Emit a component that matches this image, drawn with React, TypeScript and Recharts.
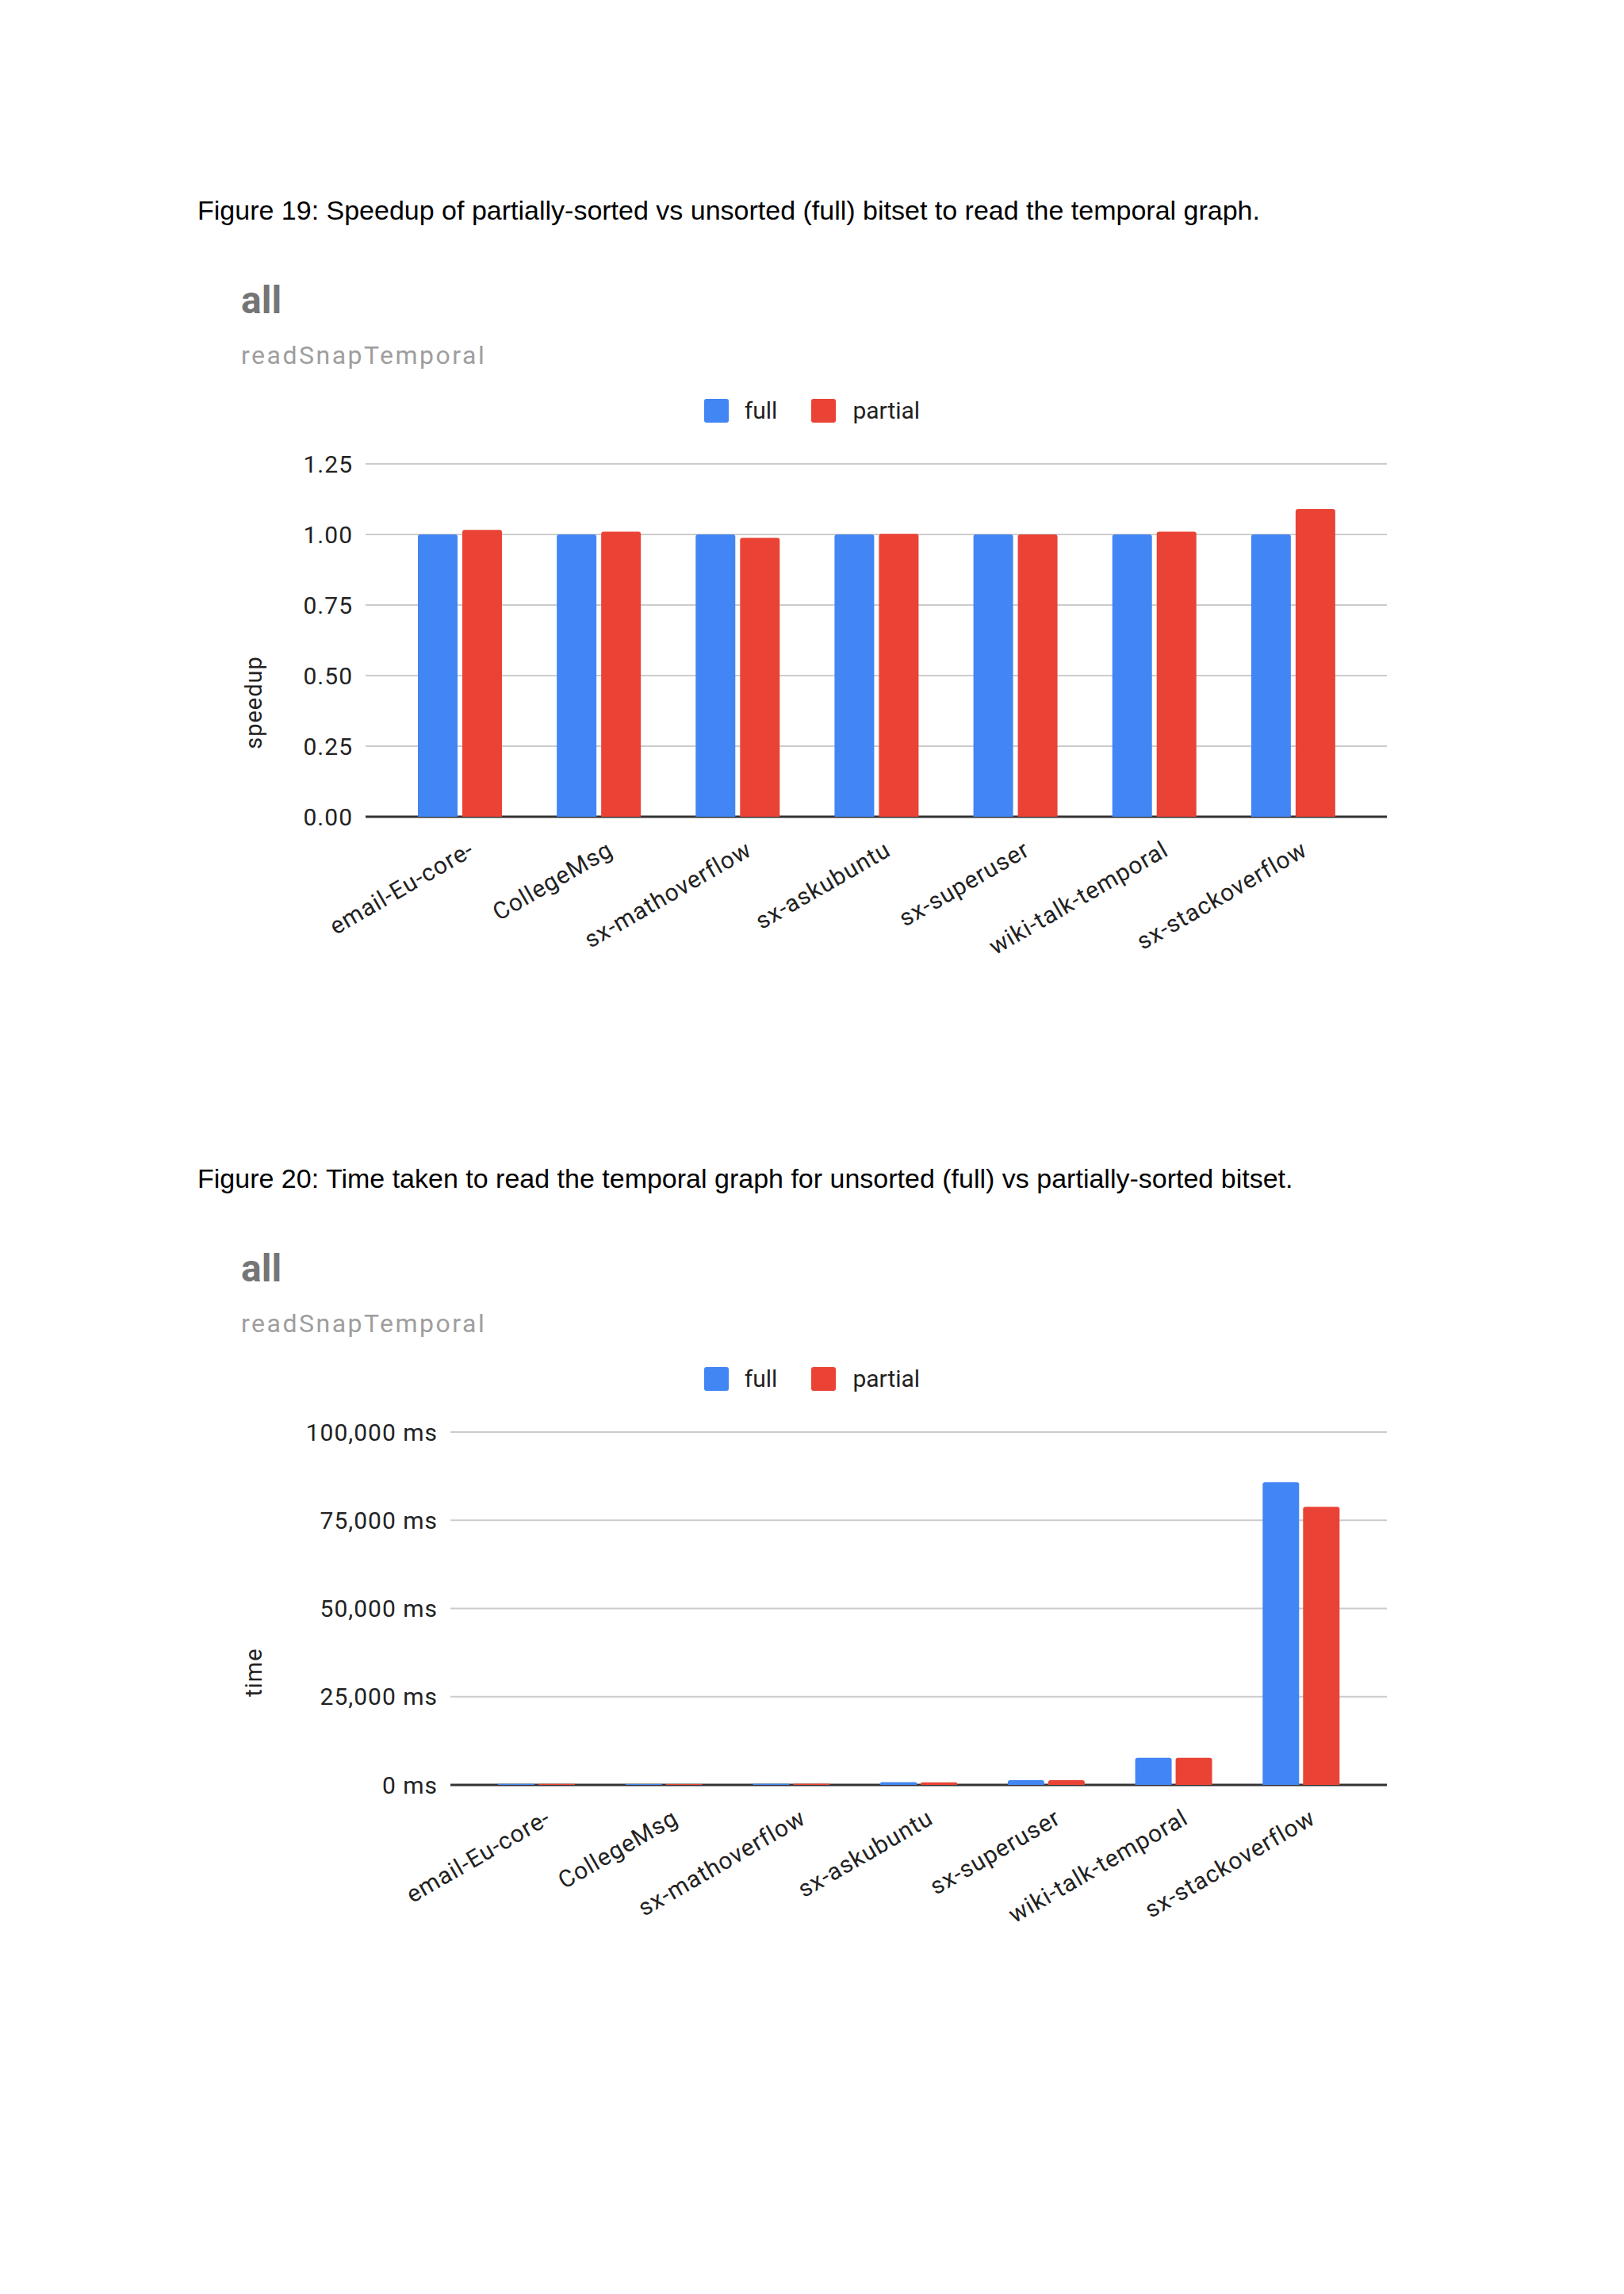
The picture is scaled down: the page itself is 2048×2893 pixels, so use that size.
import { BarChart, Bar, XAxis, YAxis, CartesianGrid, Legend } from "recharts";

const CATEGORIES = [
  "email-Eu-core-",
  "CollegeMsg",
  "sx-mathoverflow",
  "sx-askubuntu",
  "sx-superuser",
  "wiki-talk-temporal",
  "sx-stackoverflow",
];

const SPEEDUP_FULL = [1, 1, 1, 1, 1, 1, 1];
const SPEEDUP_PARTIAL = [1.016, 1.01, 0.988, 1.002, 1.0, 1.01, 1.09];
const SPEEDUP_TICKS = [0, 0.25, 0.5, 0.75, 1, 1.25];

const TIME_FULL = [300, 250, 350, 760, 1350, 7700, 85800];
const TIME_PARTIAL = [290, 240, 340, 750, 1350, 7700, 78800];
const TIME_TICKS = [0, 25000, 50000, 75000, 100000];

const BLUE = "#4285F4";
const RED = "#EA4335";
const FONT = "Roboto, Arial, sans-serif";

const speedupData = CATEGORIES.map((name, i) => ({
  name,
  full: SPEEDUP_FULL[i],
  partial: SPEEDUP_PARTIAL[i],
}));

const timeData = CATEGORIES.map((name, i) => ({
  name,
  full: TIME_FULL[i],
  partial: TIME_PARTIAL[i],
}));

const SlantTick = ({ x, y, payload }: any) => (
  <g transform={`translate(${x + 9},${y + 28}) rotate(-30)`}>
    <text
      textAnchor="end"
      dy="0.75em"
      fontSize={30}
      fontFamily={FONT}
      fill="#222"
      letterSpacing={1}
    >
      {payload.value}
    </text>
  </g>
);

// grid line at zero doubles as the dark baseline, drawn under the bars
const GridLine = (props: any) => (
  <line
    x1={props.x1}
    y1={props.y1}
    x2={props.x2}
    y2={props.y2}
    stroke={props.index === 0 ? "#333" : "#cccccc"}
    strokeWidth={props.index === 0 ? 3 : 2}
  />
);

const LegendBox = () => (
  <div
    style={{
      display: "flex",
      justifyContent: "center",
      alignItems: "center",
      fontFamily: FONT,
      fontSize: 30,
      lineHeight: "30px",
      color: "#222",
    }}
  >
    <span style={{ width: 31, height: 30, background: BLUE, borderRadius: 3 }} />
    <span style={{ marginLeft: 20 }}>full</span>
    <span style={{ width: 31, height: 30, background: RED, borderRadius: 3, marginLeft: 43 }} />
    <span style={{ marginLeft: 21 }}>partial</span>
  </div>
);

const AxisTitle = ({ text, y }: { text: string; y: number }) => (
  <text
    x={320}
    y={y}
    transform={`rotate(-90 320 ${y})`}
    textAnchor="middle"
    dominantBaseline="central"
    fontSize={29}
    fontFamily={FONT}
    fill="#222"
    letterSpacing={1}
  >
    {text}
  </text>
);

const Heading = ({ top }: { top: number }) => (
  <>
    <div
      style={{
        position: "absolute",
        left: 304,
        top: top,
        fontFamily: FONT,
        fontSize: 48,
        lineHeight: 1,
        fontWeight: "bold",
        color: "#757575",
        whiteSpace: "nowrap",
      }}
    >
      all
    </div>
    <div
      style={{
        position: "absolute",
        left: 304,
        top: top + 77,
        fontFamily: FONT,
        fontSize: 32,
        lineHeight: 1,
        letterSpacing: 2.5,
        color: "#9e9e9e",
        whiteSpace: "nowrap",
      }}
    >
      readSnapTemporal
    </div>
  </>
);

const Caption = ({ top, text }: { top: number; text: string }) => (
  <div
    style={{
      position: "absolute",
      left: 249,
      top: top,
      fontFamily: "'Liberation Sans', Arial, sans-serif",
      fontSize: 34,
      lineHeight: 1,
      color: "#000",
      whiteSpace: "nowrap",
    }}
  >
    {text}
  </div>
);

const SpeedupChart = () => (
  <div style={{ position: "absolute", left: 0, top: 480 }}>
    <BarChart
      width={2048}
      height={850}
      data={speedupData}
      margin={{ top: 105, right: 299, bottom: 0, left: 0 }}
      barSize={50}
      barGap={6}
    >
      <CartesianGrid vertical={false} horizontal={<GridLine />} />
      <Legend
        layout="horizontal"
        align="center"
        verticalAlign="middle"
        wrapperStyle={{ top: 23, left: 0, width: 2048 }}
        content={<LegendBox />}
      />
      <XAxis
        dataKey="name"
        interval={0}
        height={300}
        padding={{ left: 31, right: 31 }}
        axisLine={false}
        tickLine={false}
        tickSize={0}
        tickMargin={0}
        tick={<SlantTick />}
      />
      <YAxis
        width={461}
        domain={[0, 1.25]}
        ticks={SPEEDUP_TICKS}
        tickFormatter={(v: number) => v.toFixed(2)}
        axisLine={false}
        tickLine={false}
        tickSize={0}
        tickMargin={16}
        tick={{ fontSize: 30, fill: "#222", fontFamily: FONT, letterSpacing: 1 }}
        label={{ content: () => <AxisTitle text="speedup" y={406} /> }}
      />
      <Bar dataKey="full" name="full" fill={BLUE} radius={[3, 3, 0, 0]} isAnimationActive={false} />
      <Bar dataKey="partial" name="partial" fill={RED} radius={[3, 3, 0, 0]} isAnimationActive={false} />
    </BarChart>
  </div>
);

const TimeChart = () => (
  <div style={{ position: "absolute", left: 0, top: 1701 }}>
    <BarChart
      width={2048}
      height={850}
      data={timeData}
      margin={{ top: 105, right: 299, bottom: 0, left: 0 }}
      barSize={46}
      barGap={5}
    >
      <CartesianGrid vertical={false} horizontal={<GridLine />} />
      <Legend
        layout="horizontal"
        align="center"
        verticalAlign="middle"
        wrapperStyle={{ top: 23, left: 0, width: 2048 }}
        content={<LegendBox />}
      />
      <XAxis
        dataKey="name"
        interval={0}
        height={300}
        padding={{ left: 28, right: 28 }}
        axisLine={false}
        tickLine={false}
        tickSize={0}
        tickMargin={0}
        tick={<SlantTick />}
      />
      <YAxis
        width={568}
        domain={[0, 100000]}
        ticks={TIME_TICKS}
        tickFormatter={(v: number) => `${v.toLocaleString("en-US")} ms`}
        axisLine={false}
        tickLine={false}
        tickSize={0}
        tickMargin={16}
        tick={{ fontSize: 30, fill: "#222", fontFamily: FONT, letterSpacing: 1 }}
        label={{ content: () => <AxisTitle text="time" y={408} /> }}
      />
      <Bar dataKey="full" name="full" fill={BLUE} radius={[3, 3, 0, 0]} isAnimationActive={false} />
      <Bar dataKey="partial" name="partial" fill={RED} radius={[3, 3, 0, 0]} isAnimationActive={false} />
    </BarChart>
  </div>
);

export default function App() {
  return (
    <div
      style={{
        position: "absolute",
        left: 0,
        top: 0,
        width: 2048,
        height: 2893,
        background: "#fff",
        overflow: "hidden",
      }}
    >
      <Caption
        top={248}
        text="Figure 19: Speedup of partially-sorted vs unsorted (full) bitset to read the temporal graph."
      />
      <Heading top={355} />
      <SpeedupChart />
      <Caption
        top={1469}
        text="Figure 20: Time taken to read the temporal graph for unsorted (full) vs partially-sorted bitset."
      />
      <Heading top={1576} />
      <TimeChart />
    </div>
  );
}
